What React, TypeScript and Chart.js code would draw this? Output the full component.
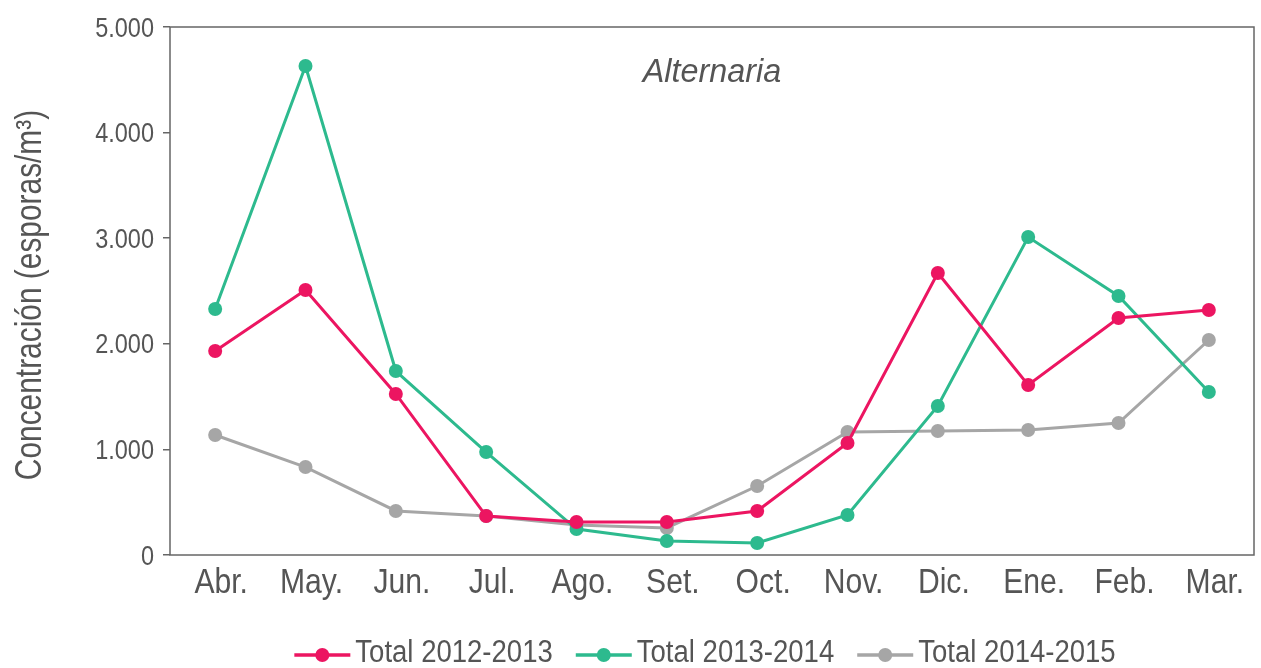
import React, { useEffect, useRef } from "react";
import { Chart, registerables } from "chart.js";

Chart.register(...registerables);

const months = ["Abr.", "May.", "Jun.", "Jul.", "Ago.", "Set.", "Oct.", "Nov.", "Dic.", "Ene.", "Feb.", "Mar."];
const total20122013 = [1932, 2509, 1525, 369, 312, 312, 417, 1061, 2670, 1610, 2244, 2320];
const total20132014 = [2330, 4631, 1742, 975, 246, 133, 114, 379, 1411, 3011, 2453, 1544];
const total20142015 = [1136, 833, 417, 369, 284, 256, 653, 1165, 1174, 1184, 1250, 2036];
const seriesLabels = ["Total 2012-2013", "Total 2013-2014", "Total 2014-2015"];
const seriesColors = ["#EC1561", "#2DBA8E", "#A6A6A6"];
const yTickValues = [0, 1000, 2000, 3000, 4000, 5000];
const chartTitle = "Alternaria";
const yAxisTitle = "Concentración (esporas/m³)";

const FONT = "'Liberation Sans', Arial, sans-serif";
const TEXT = "#555555";
const AXIS = "#666666";

function drawText(
  ctx: CanvasRenderingContext2D,
  text: string,
  x: number,
  y: number,
  size: number,
  sx: number,
  align: CanvasTextAlign,
  rotate = 0,
  italic = false
) {
  ctx.save();
  ctx.translate(x, y);
  if (rotate) ctx.rotate(rotate);
  ctx.scale(sx, 1);
  ctx.font = `${italic ? "italic " : ""}${size}px ${FONT}`;
  ctx.fillStyle = TEXT;
  ctx.textAlign = align;
  ctx.textBaseline = "alphabetic";
  ctx.fillText(text, 0, 0);
  ctx.restore();
}

const fmt = (v: number) => (v === 0 ? "0" : (v / 1000).toFixed(3));

const frame = {
  id: "frame",
  beforeDatasetsDraw(chart: any) {
    const { ctx, chartArea: a } = chart;
    ctx.save();
    ctx.strokeStyle = AXIS;
    ctx.lineWidth = 1.5;
    ctx.strokeRect(a.left, a.top, a.right - a.left, a.bottom - a.top);
    ctx.restore();
  },
};

const texts = {
  id: "texts",
  afterDraw(chart: any) {
    const { ctx, chartArea: a, scales } = chart;
    // title
    drawText(ctx, chartTitle, (a.left + a.right) / 2, 82, 33, 0.98, "center", 0, true);
    // y axis title
    drawText(ctx, yAxisTitle, 41, (a.top + a.bottom) / 2 + 4, 36, 0.83, "center", -Math.PI / 2);
    // y tick labels
    yTickValues.forEach((v) => {
      const py = scales.y.getPixelForValue(v);
      drawText(ctx, fmt(v), a.left - 16, py + 9.5, 27, 0.87, "right");
    });
    // x tick labels
    months.forEach((m, i) => {
      const px = scales.x.getPixelForTick(i);
      drawText(ctx, m, px + 6, a.bottom + 38, 35, 0.86, "center");
    });
    // legend
    const size = 31;
    const sx = 0.888;
    const lineLen = 56;
    const gap = 5;
    const spacing = 23;
    ctx.save();
    ctx.font = `${size}px ${FONT}`;
    const ds = chart.data.datasets;
    const widths = ds.map((d: any) => lineLen + gap + ctx.measureText(d.label).width * sx);
    ctx.restore();
    const total = widths.reduce((s: number, w: number) => s + w, 0) + spacing * (ds.length - 1);
    let x = (a.left + a.right) / 2 - 7 - total / 2;
    const y = 655;
    ds.forEach((d: any, i: number) => {
      ctx.save();
      ctx.strokeStyle = d.borderColor;
      ctx.lineWidth = 3.5;
      ctx.beginPath();
      ctx.moveTo(x, y);
      ctx.lineTo(x + lineLen, y);
      ctx.stroke();
      ctx.fillStyle = d.borderColor;
      ctx.beginPath();
      ctx.arc(x + lineLen / 2, y, 7, 0, Math.PI * 2);
      ctx.fill();
      ctx.restore();
      drawText(ctx, d.label, x + lineLen + gap, 662, size, sx, "left");
      x += widths[i] + spacing;
    });
  },
};

export default function App() {
  const ref = useRef<HTMLCanvasElement>(null);
  useEffect(() => {
    document.body.style.margin = "0";
    const seriesData = [total20122013, total20132014, total20142015];
    const chart = new Chart(ref.current!, {
      type: "line",
      data: {
        labels: months,
        datasets: seriesData.map((data, i) => ({
          label: seriesLabels[i],
          data,
          borderColor: seriesColors[i],
          backgroundColor: seriesColors[i],
          pointBackgroundColor: seriesColors[i],
          pointBorderWidth: 0,
          pointRadius: 7,
          borderWidth: 3,
          tension: 0,
        })),
      },
      options: {
        responsive: false,
        animation: false,
        layout: { padding: { left: 0, right: 4, top: 27, bottom: 0 } },
        plugins: { legend: { display: false }, tooltip: { enabled: false }, title: { display: false } },
        scales: {
          x: {
            offset: true,
            grid: { display: false, drawTicks: false },
            border: { display: false },
            ticks: { display: false },
            afterFit(scale: any) {
              scale.height = 113;
            },
          },
          y: {
            min: 0,
            max: 5000,
            afterBuildTicks(scale: any) {
              scale.ticks = yTickValues.map((v) => ({ value: v }));
            },
            grid: { drawOnChartArea: false, drawTicks: true, tickLength: 7, color: AXIS, lineWidth: 1.5 },
            border: { display: false },
            ticks: { display: false },
            afterFit(scale: any) {
              scale.width = 170;
            },
          },
        },
      },
      plugins: [frame, texts],
    });
    return () => chart.destroy();
  }, []);
  return (
    <div style={{ position: "absolute", left: 0, top: 0, width: 1261, height: 668 }}>
      <canvas ref={ref} width={1261} height={668} />
    </div>
  );
}
